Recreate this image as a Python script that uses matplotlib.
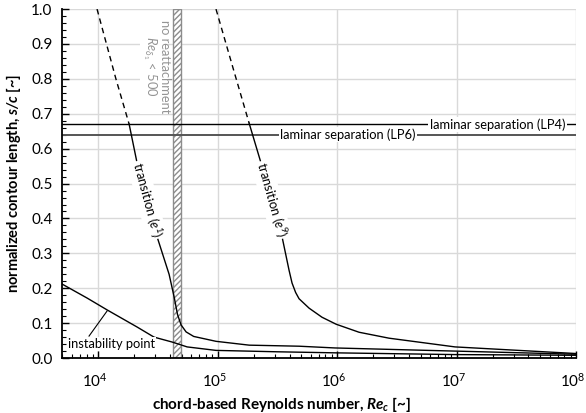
import numpy as np
import matplotlib
matplotlib.use("Agg")
from matplotlib import pyplot as plt
from matplotlib import transforms
from matplotlib.ticker import AutoMinorLocator, LogLocator, NullFormatter

plt.rcParams['font.family'] = ['Lato', 'DejaVu Sans']
plt.rcParams['mathtext.fontset'] = 'custom'
plt.rcParams['mathtext.rm'] = 'Lato'
plt.rcParams['mathtext.it'] = 'Lato:italic'
plt.rcParams['mathtext.bf'] = 'Lato:bold'
plt.rcParams['mathtext.bfit'] = 'Lato:bold:italic'

# transition e^1 (first 3 points dashed)
re_e1 = [9800, 14100, 18200, 21200, 31200, 39300, 43300, 46200, 49500, 54500,
         63100, 97000, 1.84e5, 4.81e5, 9.6e5, 9.7e6, 1e8]
s_e1 = [1.0, 0.80, 0.670, 0.559, 0.347, 0.24, 0.175, 0.125, 0.095, 0.075,
        0.062, 0.048, 0.037, 0.034, 0.029, 0.020, 0.011]

# transition e^9 (first 3 points dashed)
re_e9 = [97000, 135000, 183700, 231000, 346700, 396300, 420000, 450000, 480800, 583400,
         748200, 982000, 1.528e6, 2.72e6, 9.7e6, 1e8]
s_e9 = [1.0, 0.83, 0.673, 0.559, 0.347, 0.252, 0.215, 0.188, 0.170, 0.143,
        0.117, 0.097, 0.074, 0.057, 0.032, 0.013]

# instability point
re_inst = [5000, 8090, 11900, 21200, 29400, 41600, 55600, 97000, 3.16e5, 9.6e5, 9.7e6, 1e8]
s_inst = [0.212, 0.172, 0.138, 0.089, 0.060, 0.046, 0.032, 0.022, 0.018, 0.015, 0.010, 0.008]

s_lp4 = 0.670
s_lp6 = 0.640
band = [42500, 49500]

fig = plt.figure(figsize=(5.86, 4.13), dpi=100)
ax = fig.add_axes([0.106, 0.133, 0.877, 0.845])
ax.set_xscale('log')
ax.set_xlim(5e3, 1e8)
ax.set_ylim(0, 1.0)

ax.grid(True, which='major', color='#d9d9d9', lw=1)
ax.set_axisbelow(True)
for sp in ['top', 'right']:
    ax.spines[sp].set_visible(False)
for sp in ['left', 'bottom']:
    ax.spines[sp].set_linewidth(1.3)

ax.axvspan(band[0], band[1], facecolor='white', edgecolor='#8c8c8c', hatch='//////', lw=1, zorder=1.5)

ax.axhline(s_lp4, color='black', lw=1, zorder=2)
ax.axhline(s_lp6, color='#555555', lw=1.4, zorder=2)

ax.plot(re_e1[:3], s_e1[:3], color='black', lw=1, ls=(0, (4, 3)), zorder=3)
ax.plot(re_e1[2:], s_e1[2:], color='black', lw=1, zorder=3)
ax.plot(re_e9[:3], s_e9[:3], color='black', lw=1, ls=(0, (4, 3)), zorder=3)
ax.plot(re_e9[2:], s_e9[2:], color='black', lw=1, zorder=3)
ax.plot(re_inst, s_inst, color='black', lw=1, zorder=3)

box = dict(facecolor='white', edgecolor='none', pad=1.0)
fs = 9.3


def line_angle(x0, y0, x1, y1):
    p = ax.transData.transform([(x0, y0), (x1, y1)])
    return np.degrees(np.arctan2(p[1, 1] - p[0, 1], p[1, 0] - p[0, 0]))


ang1 = line_angle(re_e1[3], s_e1[3], re_e1[4], s_e1[4])
ax.text(25700, 0.453, 'transition ($e^1$)', rotation=ang1, rotation_mode='anchor',
        ha='center', va='center', fontsize=fs, bbox=box, zorder=4)
ang9 = line_angle(re_e9[3], s_e9[3], re_e9[4], s_e9[4])
ax.text(283000, 0.453, 'transition ($e^9$)', rotation=ang9, rotation_mode='anchor',
        ha='center', va='center', fontsize=fs, bbox=box, zorder=4)

ax.text(1.23e6, s_lp6, 'laminar separation (LP6)', ha='center', va='center',
        fontsize=fs, bbox=box, zorder=4)
ax.text(2.2e7, s_lp4, 'laminar separation (LP4)', ha='center', va='center',
        fontsize=fs, bbox=box, zorder=4)

ax.text(30500, 0.835, 'no reattachment\n$Re_{\\delta_1}$ < 500', rotation=-90,
        ha='center', va='center', color='#949494', fontsize=fs,
        linespacing=1.1, bbox=dict(facecolor='white', edgecolor='none', pad=0.5), zorder=4)

ax.plot([11900, 8400], [0.135, 0.063], color='black', lw=0.8, zorder=3)
ax.text(5600, 0.04, 'instability point', ha='left', va='center', fontsize=fs,
        bbox=dict(facecolor='white', edgecolor='none', pad=0.5), zorder=4)

ax.set_yticks(np.arange(0, 1.01, 0.1))
ax.set_yticklabels(['%.1f' % v for v in np.arange(0, 1.01, 0.1)])
ax.yaxis.set_minor_locator(AutoMinorLocator(5))
ax.xaxis.set_major_locator(LogLocator(base=10, numticks=10))
ax.xaxis.set_minor_locator(LogLocator(base=10, subs=np.arange(2, 10), numticks=20))
ax.xaxis.set_minor_formatter(NullFormatter())
ax.tick_params(which='major', direction='in', length=5, width=1, labelsize=11, pad=7)
ax.tick_params(which='minor', direction='in', length=3, width=0.8)
ax.tick_params(axis='x', which='major', pad=10)

shift = transforms.ScaledTranslation(-3 / 100, 0, fig.dpi_scale_trans)
for lab in ax.get_xticklabels():
    lab.set_transform(lab.get_transform() + shift)

ax.set_xlabel('chord-based Reynolds number, $\\mathbfit{Re}_\\mathbfit{c}$ [~]',
              fontsize=11, fontweight='bold')
ax.xaxis.set_label_coords(0.428, -0.105)
ax.set_ylabel('normalized contour length, $\\mathbfit{s/c}$ [~]',
              fontsize=10.5, fontweight='bold', labelpad=6)

fig.savefig('out.png', dpi=100)
